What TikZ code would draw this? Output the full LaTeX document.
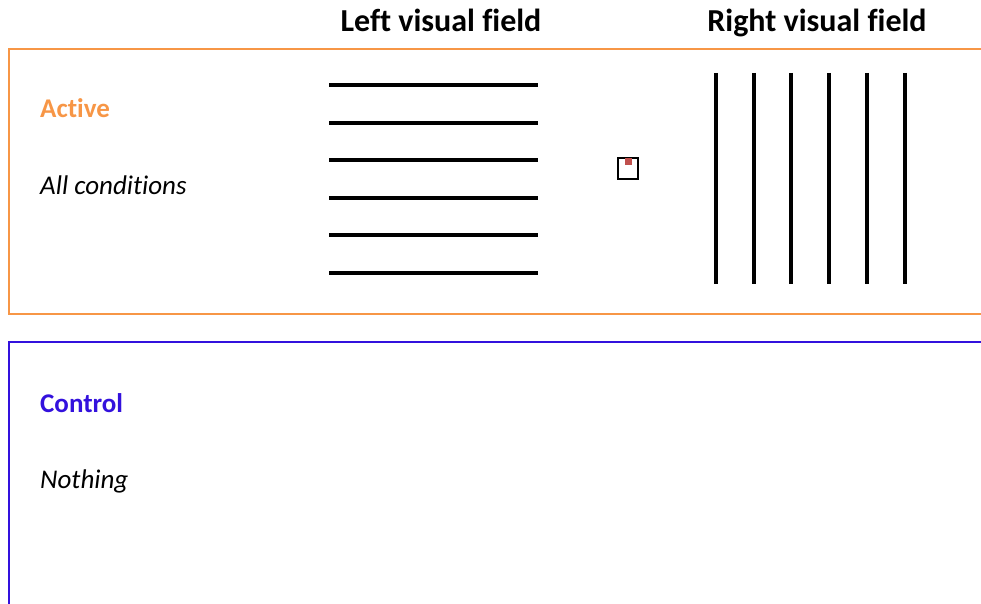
\documentclass[tikz,border=0pt]{standalone}
\usepackage{fontspec}
\setmainfont{Carlito}[Ligatures=NoCommon]
\definecolor{actorange}{RGB}{247,150,70}
\definecolor{ctrlblue}{RGB}{51,17,221}
\definecolor{fixred}{RGB}{192,80,77}
\tikzset{
  hdr/.style={anchor=base,font=\fontsize{32}{36}\selectfont\bfseries,inner sep=0pt},
  lbl/.style={anchor=base west,inner sep=0pt},
  bar/.style={line width=4pt},
}
\begin{document}
\begin{tikzpicture}[x=1pt,y=-1pt]
\useasboundingbox (0,0) rectangle (981,604);
% headers
\node[hdr] (lvf) at (441,32) {Left visual field};
\node[hdr] (rvf) at (817,32) {Right visual field};
% boxes
\draw[actorange,line width=2pt] (990,49) -- (9,49) -- (9,314) -- (990,314);
\draw[ctrlblue,line width=2pt] (990,342) -- (9,342) -- (9,620);
% labels
\node[lbl,text=actorange,font=\fontsize{27}{30}\selectfont\bfseries] (act) at (40,118) {Active};
\node[lbl,font=\fontsize{27}{30}\selectfont\itshape] (allc) at (40,194) {All conditions};
\node[lbl,text=ctrlblue,font=\fontsize{27}{30}\selectfont\bfseries] (ctl) at (40,412) {Control};
\node[lbl,font=\fontsize{27}{30}\selectfont\itshape] (noth) at (40,488) {Nothing};
% horizontal gratings
\foreach \y in {85,123,160,198,235,273} \draw[bar] (329,\y) -- (538,\y);
% vertical gratings
\foreach \x in {716,754,791,829,867,905} \draw[bar] (\x,73) -- (\x,284);
% fixation
\draw[line width=2pt] (618,158) rectangle (638,179);
\fill[fixred] (625,158) rectangle (632,165);
\end{tikzpicture}
\end{document}
